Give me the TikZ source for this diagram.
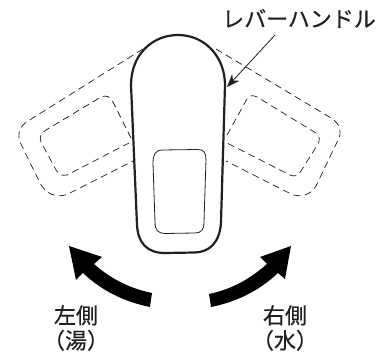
\documentclass[tikz,border=0pt]{standalone}
\usepackage{fontspec}
\setmainfont{Noto Sans CJK JP}
\newfontfamily\capfont[FakeBold=0.45]{Noto Sans CJK JP}
\usetikzlibrary{arrows.meta}
\definecolor{ink}{HTML}{231F20}
\tikzset{
  handle/.style={draw=ink,line width=2.2pt,line join=round},
  innerbox/.style={draw=ink,line width=0.8pt},
  ghost/.style={draw=ink,line width=0.7pt,dash pattern=on 7pt off 4.5pt},
  swing/.style={fill=black,draw=none},
  leader/.style={draw=ink,line width=0.8pt,-{Stealth[length=13pt,width=10pt]}},
  caption/.style={font=\capfont\fontsize{22}{25}\selectfont,text=ink,inner sep=0pt,align=center}
}
\begin{document}
\begin{tikzpicture}[x=1pt,y=-1pt]
\useasboundingbox (0,0) rectangle (376,353);
% rotated positions (dashed)
\draw[ghost] (143,49) -- (28,121) .. controls (20,126) and (17,133) .. (20,142) -- (40,183) .. controls (45,193) and (56,199) .. (68,194) -- (133,161);
\draw[ghost] (131,138) -- (113,102) .. controls (110,96) and (106,95) .. (101,97) -- (46,130) .. controls (41,133) and (39,137) .. (41,142) -- (56,170) .. controls (59,175) and (62,176) .. (67,175) -- (129,143);
\draw[ghost] (216,49) -- (331,118) .. controls (339,123) and (342,130) .. (339,138) -- (316,186) .. controls (311,195) and (300,198) .. (291,194) -- (226,161);
\draw[ghost] (227,135) -- (247,99) .. controls (250,95) and (253,95) .. (257,97) -- (316,133) .. controls (320,136) and (320,140) .. (318,144) -- (301,171) .. controls (298,176) and (294,177) .. (290,175) -- (227,143);
% handle
\path[handle,fill=white] (131,85) .. controls (131,55) and (152,35) .. (178,35) .. controls (205,35) and (225,57) .. (225,85) -- (221,222) .. controls (220,242) and (210,252) .. (195,252.5) -- (165,253) .. controls (147,253) and (138,243) .. (137,225) -- cycle;
\path[innerbox] (153,163) .. controls (153,154) and (156,150) .. (162,150) -- (198,149.5) .. controls (204,149.5) and (206,153) .. (206,160) -- (204,222) .. controls (204,230) and (201,233) .. (195,233) -- (165,233.5) .. controls (158,233.5) and (155,230) .. (155,222) -- cycle;
% swing arrows
\fill[swing] (152,293) .. controls (128,288) and (110,278) .. (94,264) -- (102,257) -- (69,246) -- (76,280) -- (83,273) .. controls (102,291) and (125,302) .. (150,307) -- cycle;
\fill[swing] (209,294) .. controls (233,289) and (251,278) .. (267,264) -- (260,257) -- (291,246) -- (285,279) -- (278,273) .. controls (259,291) and (236,302) .. (211,307) -- cycle;
% labels
\node[caption,anchor=east] (lever) at (376,18.5) {レバーハンドル};
\node[caption] (left) at (76,328) {左側\\（湯）};
\node[caption] (right) at (285,328) {右側\\（水）};
\coordinate (leverfree) at (275,35);
\coordinate (leverpoint) at (227,87);
\draw[leader] (leverfree) -- (leverpoint);
\end{tikzpicture}
\end{document}
